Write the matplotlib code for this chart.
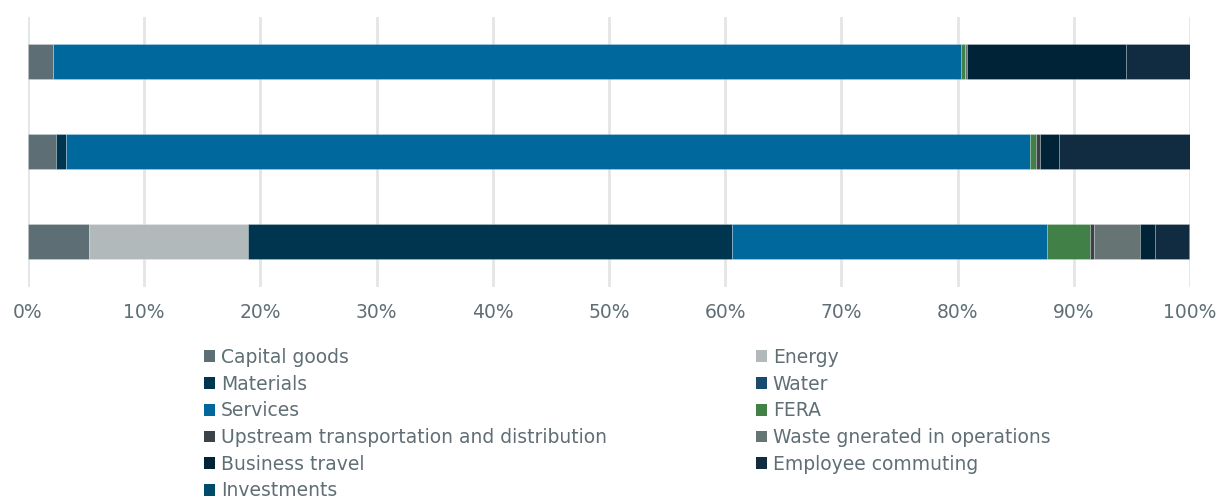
import matplotlib.pyplot as plt
from matplotlib.patches import Patch
from matplotlib.ticker import PercentFormatter

# Share of emissions per category (percent), one value per bar, top to bottom
series = [
    'Capital goods', 'Energy', 'Materials', 'Water', 'Services', 'FERA',
    'Upstream transportation and distribution', 'Waste gnerated in operations',
    'Business travel', 'Employee commuting', 'Investments',
]
capital_goods = [2.15, 2.38, 5.25]
energy = [0, 0, 13.68]
materials = [0, 0.92, 41.65]
water = [0, 0, 0]
services = [78.15, 82.9, 27.1]
fera = [0.3, 0.55, 3.75]
upstream = [0, 0.35, 0.29]
waste = [0.25, 0, 3.96]
business_travel = [13.6, 1.6, 1.32]
employee_commuting = [5.55, 11.3, 2.9]
investments = [0, 0, 0.1]

colors = ['#5d6e74', '#b1b9ba', '#003550', '#1a4a6e', '#00689c', '#418046',
          '#3b4348', '#667574', '#002337', '#112b40', '#004b6b']
values = [capital_goods, energy, materials, water, services, fera, upstream,
          waste, business_travel, employee_commuting, investments]

text_color = '#5f6f75'
plt.rcParams['font.family'] = ['DejaVu Sans']

fig = plt.figure(figsize=(12.21, 5.0), dpi=100)
ax = fig.add_axes([28 / 1221, 1 - 286.5 / 500, (1190 - 28) / 1221, 270 / 500])

ypos = list(range(len(capital_goods)))
left = [0.0] * len(ypos)
for name, vals, c in zip(series, values, colors):
    ax.barh(ypos, vals, left=left, height=0.39, color=c,
            edgecolor=(1, 1, 1, 0.25), linewidth=0.6, zorder=3)
    left = [l + v for l, v in zip(left, vals)]

ax.set_xlim(0, 100)
ax.set_ylim(2.5, -0.5)
ax.set_xticks(range(0, 101, 10))
ax.xaxis.set_major_formatter(PercentFormatter(decimals=0))
ax.set_yticks([])
ax.grid(axis='x', color='#e3e6e6', linewidth=2, zorder=0)
for s in ax.spines.values():
    s.set_visible(False)
ax.tick_params(axis='x', length=0, labelsize=13.5, labelcolor=text_color, pad=12)

# legend: two columns, filled row by row
order = [0, 2, 4, 6, 8, 10, 1, 3, 5, 7, 9]
handles = [Patch(facecolor=colors[i], edgecolor='none') for i in order]
labels = [series[i] for i in order]
leg = fig.legend(handles, labels, ncol=2, loc='upper left',
                 bbox_to_anchor=(204 / 1221, 1 - 348 / 500), frameon=False,
                 fontsize=13.5, handlelength=0.6, handleheight=0.6,
                 handletextpad=0.3, labelspacing=0.41, columnspacing=7.95,
                 borderaxespad=0, borderpad=0)
for t in leg.get_texts():
    t.set_color(text_color)

fig.savefig('out.png', dpi=100)
